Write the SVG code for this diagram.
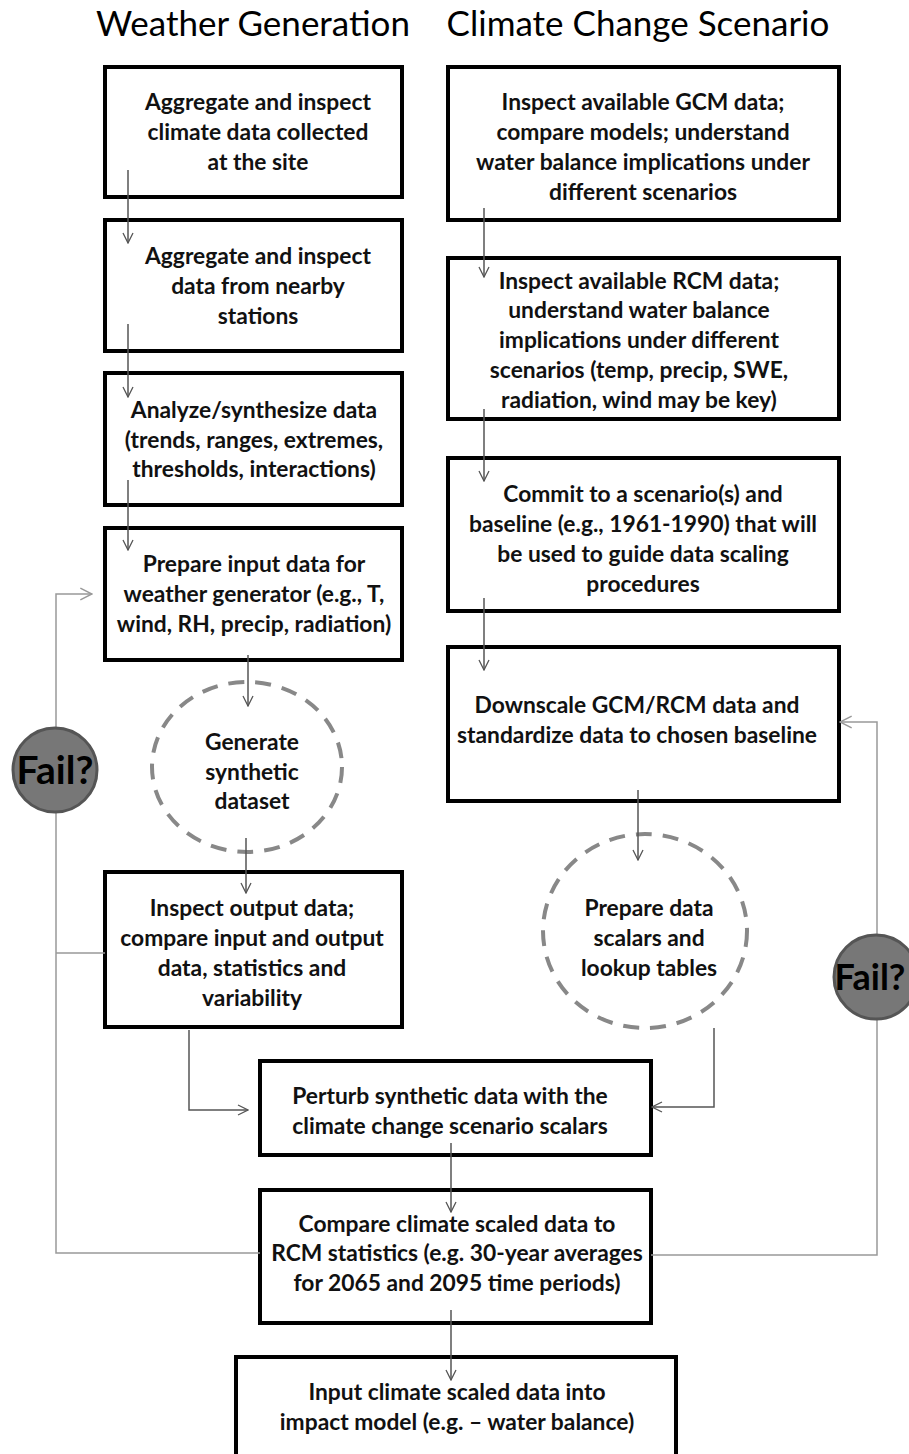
<svg xmlns="http://www.w3.org/2000/svg" width="909" height="1454" viewBox="0 0 909 1454">
<style>
.box{fill:#fff;stroke:#000;stroke-width:4}
.t{font-family:Lato,"Open Sans","Liberation Sans",sans-serif;font-size:22.8px;font-weight:bold;fill:#111;text-anchor:middle}
.h{font-family:Lato,"Open Sans","Liberation Sans",sans-serif;font-size:35px;fill:#000;text-anchor:middle}
.dash{fill:#fff;stroke:#888;stroke-width:4;stroke-dasharray:16 11}
.c{fill:none;stroke:#555;stroke-width:1.5}
.f{fill:none;stroke:#999;stroke-width:1.5}
.fail{fill:#777;stroke:#555;stroke-width:3}
.ft{font-family:Lato,"Open Sans","Liberation Sans",sans-serif;font-size:39px;font-weight:bold;fill:#000;text-anchor:middle}
</style>
<defs>
<marker id="a" viewBox="0 0 12 12" refX="11" refY="6" markerWidth="12" markerHeight="12" markerUnits="userSpaceOnUse" orient="auto">
<path d="M1,1 L11,6 L1,11" fill="none" stroke="#555" stroke-width="1.3"/>
</marker>
<marker id="b" viewBox="0 0 12 12" refX="11" refY="6" markerWidth="14" markerHeight="14" markerUnits="userSpaceOnUse" orient="auto">
<path d="M1,1 L11,6 L1,11" fill="none" stroke="#999" stroke-width="1.3"/>
</marker>
</defs>
<rect width="909" height="1454" fill="#fff"/>
<text class="h" x="253" y="36">Weather Generation</text>
<text class="h" x="638" y="36">Climate Change Scenario</text>

<g id="w1"><rect class="box" x="105" y="67" width="297" height="130"/>
<text class="t" x="258" y="110">Aggregate and inspect</text><text class="t" x="258" y="140">climate data collected</text><text class="t" x="258" y="170">at the site</text></g>
<g id="w2"><rect class="box" x="105" y="220" width="297" height="131"/>
<text class="t" x="258" y="264">Aggregate and inspect</text><text class="t" x="258" y="294">data from nearby</text><text class="t" x="258" y="324">stations</text></g>
<g id="w3"><rect class="box" x="105" y="373" width="297" height="132"/>
<text class="t" x="254" y="418">Analyze/synthesize data</text><text class="t" x="254" y="448">(trends, ranges, extremes,</text><text class="t" x="254" y="477">thresholds, interactions)</text></g>
<g id="w4"><rect class="box" x="105" y="528" width="297" height="132"/>
<text class="t" x="254" y="572">Prepare input data for</text><text class="t" x="254" y="602">weather generator (e.g., T,</text><text class="t" x="254" y="632">wind, RH, precip, radiation)</text></g>
<g id="w5"><ellipse class="dash" cx="247" cy="767" rx="95" ry="85"/>
<text class="t" x="252" y="750">Generate</text><text class="t" x="252" y="780">synthetic</text><text class="t" x="252" y="809">dataset</text></g>
<g id="w6"><rect class="box" x="105" y="872" width="297" height="155"/>
<text class="t" x="252" y="916">Inspect output  data;</text><text class="t" x="252" y="946">compare input and output</text><text class="t" x="252" y="976">data, statistics and</text><text class="t" x="252" y="1006">variability</text></g>

<g id="c1"><rect class="box" x="448" y="67" width="391" height="153"/>
<text class="t" x="643" y="110">Inspect available GCM data;</text><text class="t" x="643" y="140">compare models; understand</text><text class="t" x="643" y="170">water balance implications under</text><text class="t" x="643" y="200">different scenarios</text></g>
<g id="c2"><rect class="box" x="448" y="258" width="391" height="161"/>
<text class="t" x="639" y="289">Inspect available RCM data;</text><text class="t" x="639" y="318">understand water balance</text><text class="t" x="639" y="348">implications under different</text><text class="t" x="639" y="378">scenarios (temp, precip, SWE,</text><text class="t" x="639" y="408">radiation, wind may be key)</text></g>
<g id="c3"><rect class="box" x="448" y="458" width="391" height="153"/>
<text class="t" x="643" y="502">Commit to a scenario(s) and</text><text class="t" x="643" y="532">baseline (e.g., 1961-1990) that will</text><text class="t" x="643" y="562">be used to guide data scaling</text><text class="t" x="643" y="592">procedures</text></g>
<g id="c4"><rect class="box" x="448" y="647" width="391" height="154"/>
<text class="t" x="637" y="713">Downscale GCM/RCM data and</text><text class="t" x="637" y="743">standardize data to chosen baseline</text></g>
<g id="c5"><ellipse class="dash" cx="645" cy="931" rx="102" ry="97"/>
<text class="t" x="649" y="916">Prepare data</text><text class="t" x="649" y="946">scalars and</text><text class="t" x="649" y="976">lookup tables</text></g>

<g id="p1"><rect class="box" x="260" y="1061" width="391" height="94"/>
<text class="t" x="450" y="1104">Perturb synthetic data with the</text><text class="t" x="450" y="1134">climate change scenario scalars</text></g>
<g id="p2"><rect class="box" x="260" y="1190" width="391" height="133"/>
<text class="t" x="457" y="1232">Compare climate scaled data to</text><text class="t" x="457" y="1261">RCM statistics (e.g. 30-year averages</text><text class="t" x="457" y="1291">for 2065 and 2095 time periods)</text></g>
<g id="p3"><rect class="box" x="236" y="1357" width="440" height="105"/>
<text class="t" x="457" y="1400">Input climate scaled data into</text><text class="t" x="457" y="1430">impact model (e.g. – water balance)</text></g>

<g id="connectors">
<path class="c" d="M128,170 V243" marker-end="url(#a)"/>
<path class="c" d="M128,324 V397" marker-end="url(#a)"/>
<path class="c" d="M128,480 V550" marker-end="url(#a)"/>
<path class="c" d="M248,655 V706" marker-end="url(#a)"/>
<path class="c" d="M246,838 V893" marker-end="url(#a)"/>
<path class="c" d="M484,208 V277" marker-end="url(#a)"/>
<path class="c" d="M484,409 V481" marker-end="url(#a)"/>
<path class="c" d="M484,598 V670" marker-end="url(#a)"/>
<path class="c" d="M638,790 V860" marker-end="url(#a)"/>
<path class="c" d="M189,1030 V1110 H248" marker-end="url(#a)"/>
<path class="c" d="M714,1028 V1107 H652" marker-end="url(#a)"/>
<path class="c" d="M451,1143 V1212" marker-end="url(#a)"/>
<path class="c" d="M451,1310 V1380" marker-end="url(#a)"/>
<path class="f" d="M260,1253 H56 V594 H92" marker-end="url(#b)"/>
<path class="f" d="M105,953 H56"/>
<path class="f" d="M651,1255 H877 V722 H840" marker-end="url(#b)"/>
</g>
<g id="fail1"><circle class="fail" cx="55" cy="770" r="42"/><text class="ft" x="55" y="784">Fail?</text></g>
<g id="fail2"><circle class="fail" cx="876" cy="977" r="42"/><text class="ft" x="870" y="990" style="font-size:36px">Fail?</text></g>
</svg>
